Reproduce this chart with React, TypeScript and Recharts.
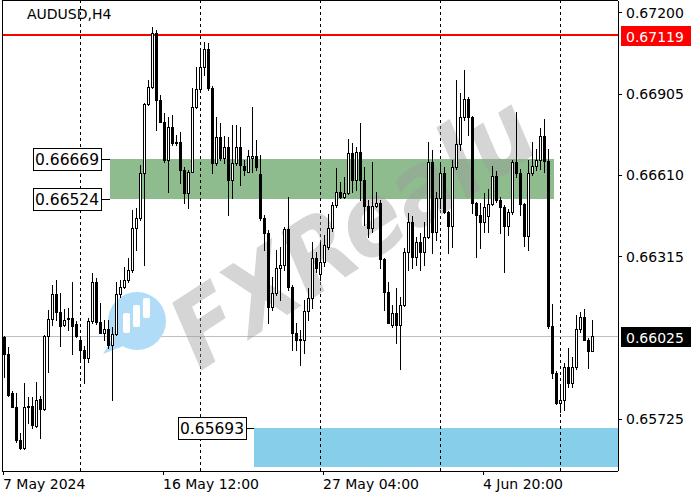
import React from 'react'
import { ComposedChart, Bar, XAxis, YAxis, ReferenceLine, ReferenceArea, ReferenceDot } from 'recharts'

// AUDUSD H4 candles
const opens = [
  0.66021, 0.65960, 0.65820, 0.65770, 0.65649, 0.65619, 0.65772, 0.65772, 0.65701, 0.65797,
  0.65760, 0.66026, 0.66087, 0.66178, 0.66114, 0.66066, 0.66087, 0.66090, 0.66068, 0.66010,
  0.65975, 0.65945, 0.66080, 0.66223, 0.66076, 0.66038, 0.66050, 0.65993, 0.66033, 0.66178,
  0.66205, 0.66229, 0.66265, 0.66417, 0.66453, 0.66616, 0.66866, 0.66930, 0.67124, 0.66882,
  0.66803, 0.66664, 0.66785, 0.66727, 0.66730, 0.66628, 0.66544, 0.66622, 0.66855, 0.66921,
  0.67001, 0.67066, 0.66924, 0.66652, 0.66749, 0.66671, 0.66713, 0.66592, 0.66652, 0.66713,
  0.66643, 0.66622, 0.66672, 0.66679, 0.66614, 0.66453, 0.66398, 0.66132, 0.66181, 0.66272,
  0.66285, 0.66413, 0.66205, 0.66036, 0.66014, 0.66010, 0.66117, 0.66163, 0.66309, 0.66250,
  0.66293, 0.66350, 0.66417, 0.66501, 0.66549, 0.66529, 0.66544, 0.66689, 0.66592, 0.66694,
  0.66592, 0.66498, 0.66417, 0.66498, 0.66507, 0.66304, 0.66187, 0.66066, 0.66108, 0.66066,
  0.66138, 0.66332, 0.66441, 0.66314, 0.66368, 0.66332, 0.66385, 0.66658, 0.66404, 0.66525,
  0.66616, 0.66477, 0.66426, 0.66638, 0.66722, 0.66821, 0.66884, 0.66819, 0.66507, 0.66465,
  0.66438, 0.66460, 0.66505, 0.66606, 0.66519, 0.66493, 0.66425, 0.66475, 0.66658, 0.66616,
  0.66505, 0.66388, 0.66617, 0.66644, 0.66664, 0.66753, 0.66662, 0.66062, 0.65892, 0.65784,
  0.65794, 0.65914, 0.65855, 0.65915, 0.66050, 0.66095, 0.66013, 0.65973,
]
const highs = [
  0.66026, 0.65985, 0.65828, 0.65820, 0.65673, 0.65855, 0.65806, 0.65806, 0.65860, 0.65808,
  0.66029, 0.66120, 0.66211, 0.66229, 0.66181, 0.66123, 0.66126, 0.66223, 0.66082, 0.66026,
  0.65990, 0.66090, 0.66253, 0.66235, 0.66145, 0.66084, 0.66084, 0.66060, 0.66222, 0.66229,
  0.66277, 0.66308, 0.66483, 0.66489, 0.66646, 0.66871, 0.66954, 0.67146, 0.67136, 0.66900,
  0.66835, 0.66820, 0.66828, 0.66755, 0.66767, 0.66640, 0.66628, 0.66924, 0.67003, 0.67069,
  0.67093, 0.67088, 0.66933, 0.66819, 0.66797, 0.66751, 0.66749, 0.66791, 0.66791, 0.66785,
  0.66664, 0.66700, 0.66855, 0.66737, 0.66682, 0.66465, 0.66410, 0.66241, 0.66338, 0.66350,
  0.66422, 0.66531, 0.66210, 0.66072, 0.66048, 0.66157, 0.66199, 0.66368, 0.66332, 0.66368,
  0.66392, 0.66470, 0.66513, 0.66634, 0.66586, 0.66604, 0.66739, 0.66725, 0.66710, 0.66797,
  0.66640, 0.66519, 0.66658, 0.66549, 0.66520, 0.66310, 0.66223, 0.66138, 0.66199, 0.66166,
  0.66344, 0.66471, 0.66460, 0.66386, 0.66398, 0.66441, 0.66731, 0.66700, 0.66549, 0.66655,
  0.66640, 0.66480, 0.66664, 0.66954, 0.66906, 0.66991, 0.66894, 0.66825, 0.66512, 0.66507,
  0.66544, 0.66558, 0.66642, 0.66625, 0.66530, 0.66500, 0.66485, 0.66664, 0.66840, 0.66630,
  0.66510, 0.66664, 0.66731, 0.66705, 0.66779, 0.66814, 0.66703, 0.66142, 0.65900, 0.65848,
  0.65927, 0.65981, 0.65951, 0.66102, 0.66114, 0.66123, 0.66020, 0.66084,
]
const lows = [
  0.65878, 0.65808, 0.65767, 0.65643, 0.65615, 0.65615, 0.65709, 0.65691, 0.65697, 0.65655,
  0.65758, 0.65897, 0.66066, 0.66084, 0.65990, 0.66063, 0.66048, 0.65961, 0.66021, 0.65942,
  0.65855, 0.65933, 0.66072, 0.66070, 0.66036, 0.66012, 0.65981, 0.65794, 0.66030, 0.66167,
  0.66200, 0.66222, 0.66258, 0.66338, 0.66447, 0.66284, 0.66864, 0.66925, 0.66773, 0.66802,
  0.66657, 0.66549, 0.66719, 0.66719, 0.66580, 0.66507, 0.66489, 0.66620, 0.66853, 0.66918,
  0.66973, 0.66920, 0.66618, 0.66645, 0.66664, 0.66652, 0.66465, 0.66525, 0.66646, 0.66574,
  0.66610, 0.66620, 0.66622, 0.66628, 0.66447, 0.66338, 0.66072, 0.66120, 0.66175, 0.66157,
  0.66265, 0.66193, 0.65975, 0.65975, 0.65921, 0.65964, 0.66084, 0.66128, 0.66259, 0.66229,
  0.66280, 0.66340, 0.66408, 0.66495, 0.66525, 0.66525, 0.66541, 0.66549, 0.66555, 0.66519,
  0.66429, 0.66386, 0.66404, 0.66495, 0.66272, 0.66120, 0.66072, 0.66060, 0.66002, 0.65905,
  0.66135, 0.66265, 0.66272, 0.66284, 0.66265, 0.66284, 0.66380, 0.66328, 0.66374, 0.66489,
  0.66472, 0.66326, 0.66350, 0.66630, 0.66700, 0.66810, 0.66755, 0.66471, 0.66311, 0.66344,
  0.66404, 0.66404, 0.66500, 0.66513, 0.66398, 0.66259, 0.66392, 0.66470, 0.66602, 0.66465,
  0.66352, 0.66337, 0.66610, 0.66628, 0.66630, 0.66622, 0.66055, 0.65874, 0.65781, 0.65752,
  0.65758, 0.65842, 0.65840, 0.65905, 0.66040, 0.66010, 0.65909, 0.65970,
]
const closes = [
  0.65960, 0.65812, 0.65770, 0.65649, 0.65619, 0.65770, 0.65767, 0.65703, 0.65794, 0.65760,
  0.66026, 0.66087, 0.66178, 0.66114, 0.66063, 0.66084, 0.66090, 0.66063, 0.66026, 0.65975,
  0.65945, 0.66080, 0.66223, 0.66076, 0.66038, 0.66050, 0.65993, 0.66033, 0.66178, 0.66205,
  0.66229, 0.66265, 0.66417, 0.66453, 0.66616, 0.66866, 0.66930, 0.67124, 0.66882, 0.66803,
  0.66664, 0.66783, 0.66727, 0.66730, 0.66628, 0.66544, 0.66622, 0.66855, 0.66921, 0.67001,
  0.67066, 0.66924, 0.66652, 0.66749, 0.66671, 0.66713, 0.66592, 0.66652, 0.66713, 0.66646,
  0.66628, 0.66679, 0.66679, 0.66640, 0.66453, 0.66398, 0.66132, 0.66181, 0.66272, 0.66285,
  0.66413, 0.66205, 0.66036, 0.66012, 0.66010, 0.66117, 0.66163, 0.66309, 0.66272, 0.66296,
  0.66356, 0.66417, 0.66501, 0.66549, 0.66529, 0.66544, 0.66689, 0.66592, 0.66694, 0.66592,
  0.66498, 0.66417, 0.66498, 0.66507, 0.66304, 0.66187, 0.66074, 0.66108, 0.66066, 0.66138,
  0.66332, 0.66441, 0.66314, 0.66368, 0.66332, 0.66385, 0.66658, 0.66404, 0.66525, 0.66616,
  0.66477, 0.66426, 0.66638, 0.66722, 0.66821, 0.66884, 0.66819, 0.66507, 0.66465, 0.66438,
  0.66495, 0.66505, 0.66606, 0.66519, 0.66493, 0.66425, 0.66475, 0.66658, 0.66616, 0.66505,
  0.66388, 0.66617, 0.66644, 0.66664, 0.66753, 0.66662, 0.66062, 0.65892, 0.65784, 0.65794,
  0.65914, 0.65855, 0.65915, 0.66050, 0.66095, 0.66013, 0.65973, 0.66025,
]

const timeTicks = [0, 40, 80, 120]
const timeLabels = ['7 May 2024', '16 May 12:00', '27 May 04:00', '4 Jun 20:00']
const priceTicks = [0.65725, 0.66315, 0.6661, 0.66905, 0.672]
const gridSlots = [19, 49, 79, 109, 139]
const lastPrice = 0.66025
const highLevel = 0.67119
const greenZone = [0.66524, 0.66669]
const blueZone = [0.65551, 0.65693]
const emptySlots = 6 // right shift of the chart

const yDomain = [0.655364, 0.67241]
const FONT = '"DejaVu Sans", sans-serif'

const data = Array.from({ length: opens.length + emptySlots }, (_, i) =>
  i < opens.length
    ? { i, o: opens[i], h: highs[i], l: lows[i], c: closes[i], range: [lows[i], highs[i]] }
    : { i }
)
const lastSlot = data.length - 1

function Candle(props: any) {
  const { x, y, width, height, payload } = props
  if (!payload || payload.o == null) return null
  const top = Math.min(y, y + height)
  const bot = Math.max(y, y + height)
  const { o, h, l, c } = payload
  const span = h - l || 1e-9
  const py = (v: number) => top + ((h - v) / span) * (bot - top)
  const cx = Math.round(x + width / 2)
  const yo = Math.round(py(o))
  const yc = Math.round(py(c))
  const bt = Math.min(yo, yc)
  const bb = Math.max(yo, yc)
  return (
    <g shapeRendering="crispEdges">
      <line x1={cx + 0.5} x2={cx + 0.5} y1={Math.round(top)} y2={Math.round(bot) + 1} stroke="#000" />
      {bb - bt < 1 ? (
        <line x1={cx - 1} x2={cx + 2} y1={bt + 0.5} y2={bt + 0.5} stroke="#000" />
      ) : c > o ? (
        <rect x={cx - 0.5} y={bt + 0.5} width={2} height={bb - bt} fill="#fff" stroke="#000" />
      ) : (
        <rect x={cx - 1} y={bt} width={3} height={bb - bt + 1} fill="#000" />
      )}
    </g>
  )
}

function TimeTick(props: any) {
  const { x, y, payload } = props
  const k = timeTicks.indexOf(payload.value)
  return (
    <g>
      <line x1={x - 0.5} x2={x - 0.5} y1={y} y2={y + 4} stroke="#000" />
      <text x={x - 1} y={y + 18} fontSize={14} fill="#000" fontFamily={FONT}>
        {timeLabels[k]}
      </text>
    </g>
  )
}

function PriceTick(props: any) {
  const { x, y, payload } = props
  return (
    <g>
      <line x1={x} x2={x + 4} y1={y + 0.5} y2={y + 0.5} stroke="#000" />
      <text x={x + 8} y={y + 5.5} fontSize={14} fill="#000" fontFamily={FONT}>
        {payload.value.toFixed(5)}
      </text>
    </g>
  )
}

const priceTag = (text: string, bg: string) => (p: any) => (
  <g>
    <rect x={p.cx + 5} y={p.cy - 9} width={70} height={20} fill={bg} />
    <text x={p.cx + 10} y={p.cy + 7} fontSize={14} fill="#fff" fontFamily={FONT}>
      {text}
    </text>
  </g>
)

const zoneTag = (text: string, gap: number) => (p: any) => (
  <g shapeRendering="crispEdges">
    <line x1={p.cx - gap} x2={p.cx - 2} y1={Math.round(p.cy) + 0.5} y2={Math.round(p.cy) + 0.5} stroke="#000" />
    <rect x={p.cx - gap - 68 + 0.5} y={Math.round(p.cy) - 10.5} width={68} height={22} fill="#fff" stroke="#000" />
    <text x={p.cx - gap - 66} y={p.cy + 6} fontSize={15.5} fill="#000" fontFamily={FONT}>
      {text}
    </text>
  </g>
)

export default function App() {
  return (
    <div style={{ position: 'fixed', left: 0, top: 0, width: 700, height: 500, background: '#fff', fontFamily: FONT }}>
      <style>{`.recharts-surface{shape-rendering:crispEdges}`}</style>

      {/* back layer: axes, zones, levels */}
      <div style={{ position: 'absolute', left: 0, top: 0 }}>
        <ComposedChart width={700} height={500} data={data} margin={{ top: 1, right: 0, bottom: 0, left: 2 }}>
          <XAxis
            dataKey="i"
            type="category"
            height={29}
            ticks={timeTicks}
            interval={0}
            tickSize={0}
            tickMargin={0}
            tick={<TimeTick />}
            axisLine={{ stroke: '#000' }}
          />
          <YAxis
            orientation="right"
            type="number"
            width={82}
            domain={yDomain}
            allowDataOverflow
            ticks={priceTicks}
            tickSize={0}
            tickMargin={0}
            tick={<PriceTick />}
            axisLine={{ stroke: '#000' }}
          />
          <Bar dataKey="range" isAnimationActive={false} shape={() => <g />} />
          <ReferenceArea x1={27} x2={137} y1={greenZone[0]} y2={greenZone[1]} fill="#8fbc8f" fillOpacity={1} stroke="none" />
          <ReferenceArea x1={63} x2={lastSlot} y1={blueZone[0]} y2={blueZone[1]} fill="#87ceeb" fillOpacity={1} stroke="none" />
          {gridSlots.map((s) => (
            <ReferenceLine key={s} x={s} stroke="#000" strokeDasharray="3 3" />
          ))}
          <ReferenceLine y={lastPrice} stroke="#c0c0c0" />
          <ReferenceLine y={highLevel} stroke="#ff0000" strokeWidth={2} />
          <ReferenceDot x={27} y={greenZone[1]} r={0} shape={zoneTag('0.66669', 11)} />
          <ReferenceDot x={27} y={greenZone[0]} r={0} shape={zoneTag('0.66524', 11)} />
          <ReferenceDot x={63} y={blueZone[1]} r={0} shape={zoneTag('0.65693', 10)} />
          <ReferenceDot x={lastSlot} y={highLevel} r={0} shape={priceTag('0.67119', '#ff0000')} />
          <ReferenceDot x={lastSlot} y={lastPrice} r={0} shape={priceTag('0.66025', '#000')} />
        </ComposedChart>
      </div>

      {/* watermark */}
      <svg width={700} height={500} style={{ position: 'absolute', left: 0, top: 0, pointerEvents: 'none' }}>
        <text
          x={352}
          y={266}
          transform="rotate(-33 352 230)"
          textAnchor="middle"
          fontSize={100}
          fontWeight="bold"
          fontStyle="italic"
          textLength={410}
          lengthAdjust="spacingAndGlyphs"
          fill="#9a9a9a"
          fillOpacity={0.42}
          fontFamily={FONT}
        >
          FXRealu
        </text>
        <g>
          <circle cx={137} cy={321} r={29} fill="#b0dcf7" />
          <path d="M114 336 L103 354 L126 345 Z" fill="#b0dcf7" />
          <rect x={123} y={313} width={7} height={20} rx={2} fill="#fff" />
          <rect x={133} y={305} width={7} height={22} rx={2} fill="#fff" />
          <rect x={143} y={298} width={7} height={20} rx={2} fill="#fff" />
        </g>
      </svg>

      {/* front layer: candles */}
      <div style={{ position: 'absolute', left: 0, top: 0 }}>
        <ComposedChart width={700} height={500} data={data} margin={{ top: 1, right: 82, bottom: 29, left: 2 }}>
          <XAxis dataKey="i" type="category" hide />
          <YAxis type="number" domain={yDomain} allowDataOverflow hide />
          <Bar dataKey="range" isAnimationActive={false} shape={<Candle />} />
        </ComposedChart>
      </div>

      {/* frame and title */}
      <svg width={700} height={500} style={{ position: 'absolute', left: 0, top: 0, pointerEvents: 'none' }}>
        <line x1={2.5} x2={2.5} y1={0} y2={471} stroke="#000" shapeRendering="crispEdges" />
        <line x1={2} x2={618} y1={0.5} y2={0.5} stroke="#000" shapeRendering="crispEdges" />
        <text x={27} y={19} fontSize={14} fill="#000" fontFamily={FONT}>
          AUDUSD,H4
        </text>
      </svg>
    </div>
  )
}
